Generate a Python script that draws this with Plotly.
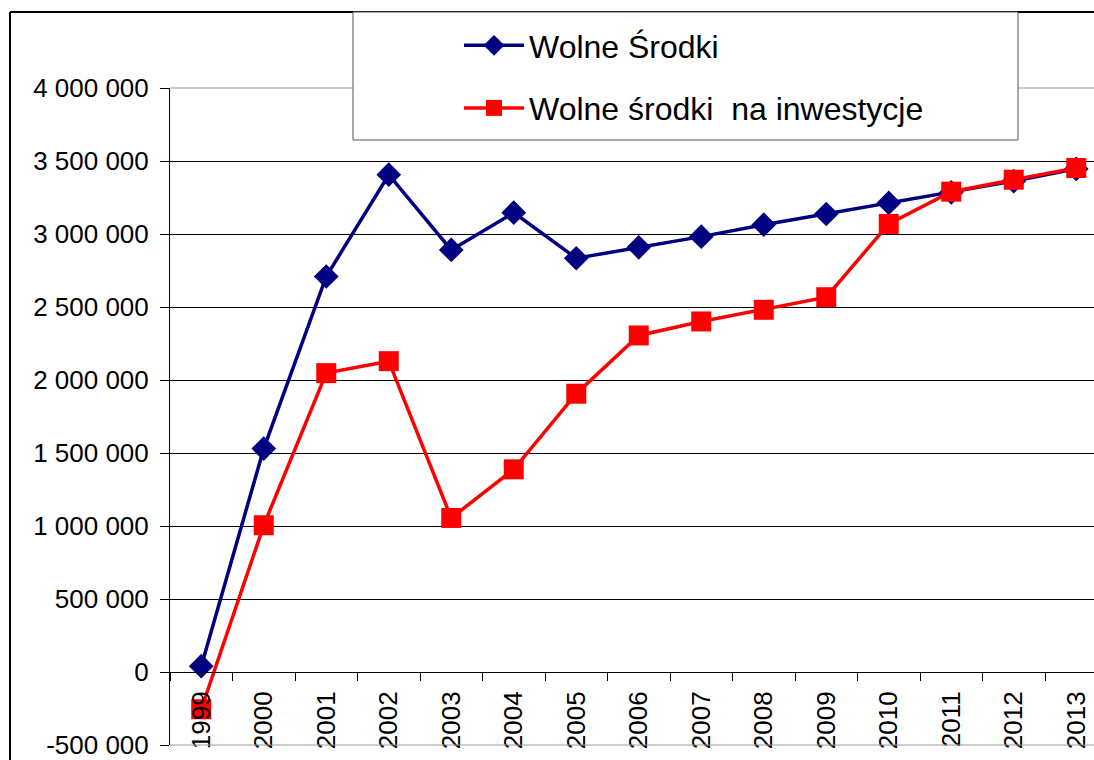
import plotly.graph_objects as go

years = ["1999", "2000", "2001", "2002", "2003", "2004", "2005", "2006",
         "2007", "2008", "2009", "2010", "2011", "2012", "2013"]
wolne_srodki = [40000, 1530000, 2709000, 3406000, 2891000, 3146000, 2834000, 2909000,
                2982000, 3064000, 3137000, 3213000, 3285000, 3362000, 3446000]
wolne_inwest = [-255000, 1005000, 2047000, 2129000, 1055000, 1388000, 1906000, 2305000,
                2401000, 2481000, 2567000, 3069000, 3290000, 3372000, 3452000]
y_tickvals = [-500000, 0, 500000, 1000000, 1500000, 2000000, 2500000, 3000000, 3500000, 4000000]
y_ticktext = ["-500 000", "0", "500 000", "1 000 000", "1 500 000", "2 000 000",
              "2 500 000", "3 000 000", "3 500 000", "4 000 000"]

W, H = 1094, 760
L, R, T, B = 170, 0, 88, 15
pw, ph = W - L - R, H - T - B

def px(x):
    return (x - L) / pw

def py(y):
    return (H - B - y) / ph

fig = go.Figure()
fig.add_trace(go.Scatter(
    x=years, y=wolne_srodki, name="Wolne Środki", mode="lines+markers",
    legendgroup="a", cliponaxis=False,
    line=dict(color="#000080", width=3.5),
    marker=dict(symbol="diamond", size=19, color="#000080", line=dict(width=0)),
))
fig.add_trace(go.Scatter(
    x=years, y=wolne_inwest, name="Wolne środki\u00a0 na inwestycje", mode="lines+markers",
    legendgroup="b", cliponaxis=False,
    line=dict(color="#FF0000", width=3.5),
    marker=dict(symbol="square", size=20, color="#FF0000", line=dict(width=0)),
))

font_family = "Liberation Sans, Arial, sans-serif"

fig.update_layout(
    width=W, height=H,
    margin=dict(l=L, r=R, t=T, b=B, pad=0),
    paper_bgcolor="white", plot_bgcolor="white",
    font=dict(family=font_family, color="black", size=26),
    showlegend=True,
    legend=dict(
        x=px(459), y=py(18), xanchor="left", yanchor="top",
        bgcolor="rgba(0,0,0,0)", borderwidth=0,
        font=dict(size=32, family=font_family, color="black"),
        traceorder="grouped", tracegroupgap=18,
        itemwidth=60,
    ),
    xaxis=dict(
        type="category",
        range=[-0.5, -0.5 + pw / 62.5],
        anchor="free", position=500000 / 4500000,
        showline=True, linecolor="black", linewidth=1,
        ticks="outside", ticklen=8, tickcolor="black", tickwidth=1,
        tickson="boundaries",
        tickangle=-90,
        ticklabelstandoff=8,
        ticklabeloverflow="allow",
        showgrid=False, zeroline=False,
        tickfont=dict(size=26),
    ),
    yaxis=dict(
        range=[-500000, 4000000],
        tickvals=y_tickvals, ticktext=y_ticktext,
        showline=True, linecolor="black", linewidth=1,
        ticks="outside", ticklen=9, tickcolor="black", tickwidth=1,
        ticklabelstandoff=6,
        ticklabeloverflow="allow",
        showgrid=True, gridcolor="black", gridwidth=1,
        zeroline=True, zerolinecolor="black", zerolinewidth=1,
        tickfont=dict(size=26),
    ),
    shapes=[
        dict(type="line", xref="paper", yref="paper", x0=0, x1=1.02, y0=1, y1=1,
             line=dict(color="#9a9a9a", width=1), layer="above"),
        dict(type="line", xref="paper", yref="paper", x0=0, x1=1.02, y0=0, y1=0,
             line=dict(color="#9a9a9a", width=1), layer="above"),
        dict(type="line", xref="paper", yref="paper", x0=px(10), x1=1.02, y0=py(12), y1=py(12),
             line=dict(color="black", width=2), layer="above"),
        dict(type="line", xref="paper", yref="paper", x0=px(10), x1=px(10), y0=py(12), y1=py(765),
             line=dict(color="black", width=2), layer="above"),
        dict(type="rect", xref="paper", yref="paper", x0=px(353), x1=px(1018), y0=py(140), y1=py(12),
             line=dict(color="#555555", width=1), fillcolor="white", layer="above"),
    ],
)

fig.write_html(
    "out.html",
    config={"displayModeBar": False},
    post_script="document.body.style.margin='0';document.body.style.overflow='hidden';",
)
